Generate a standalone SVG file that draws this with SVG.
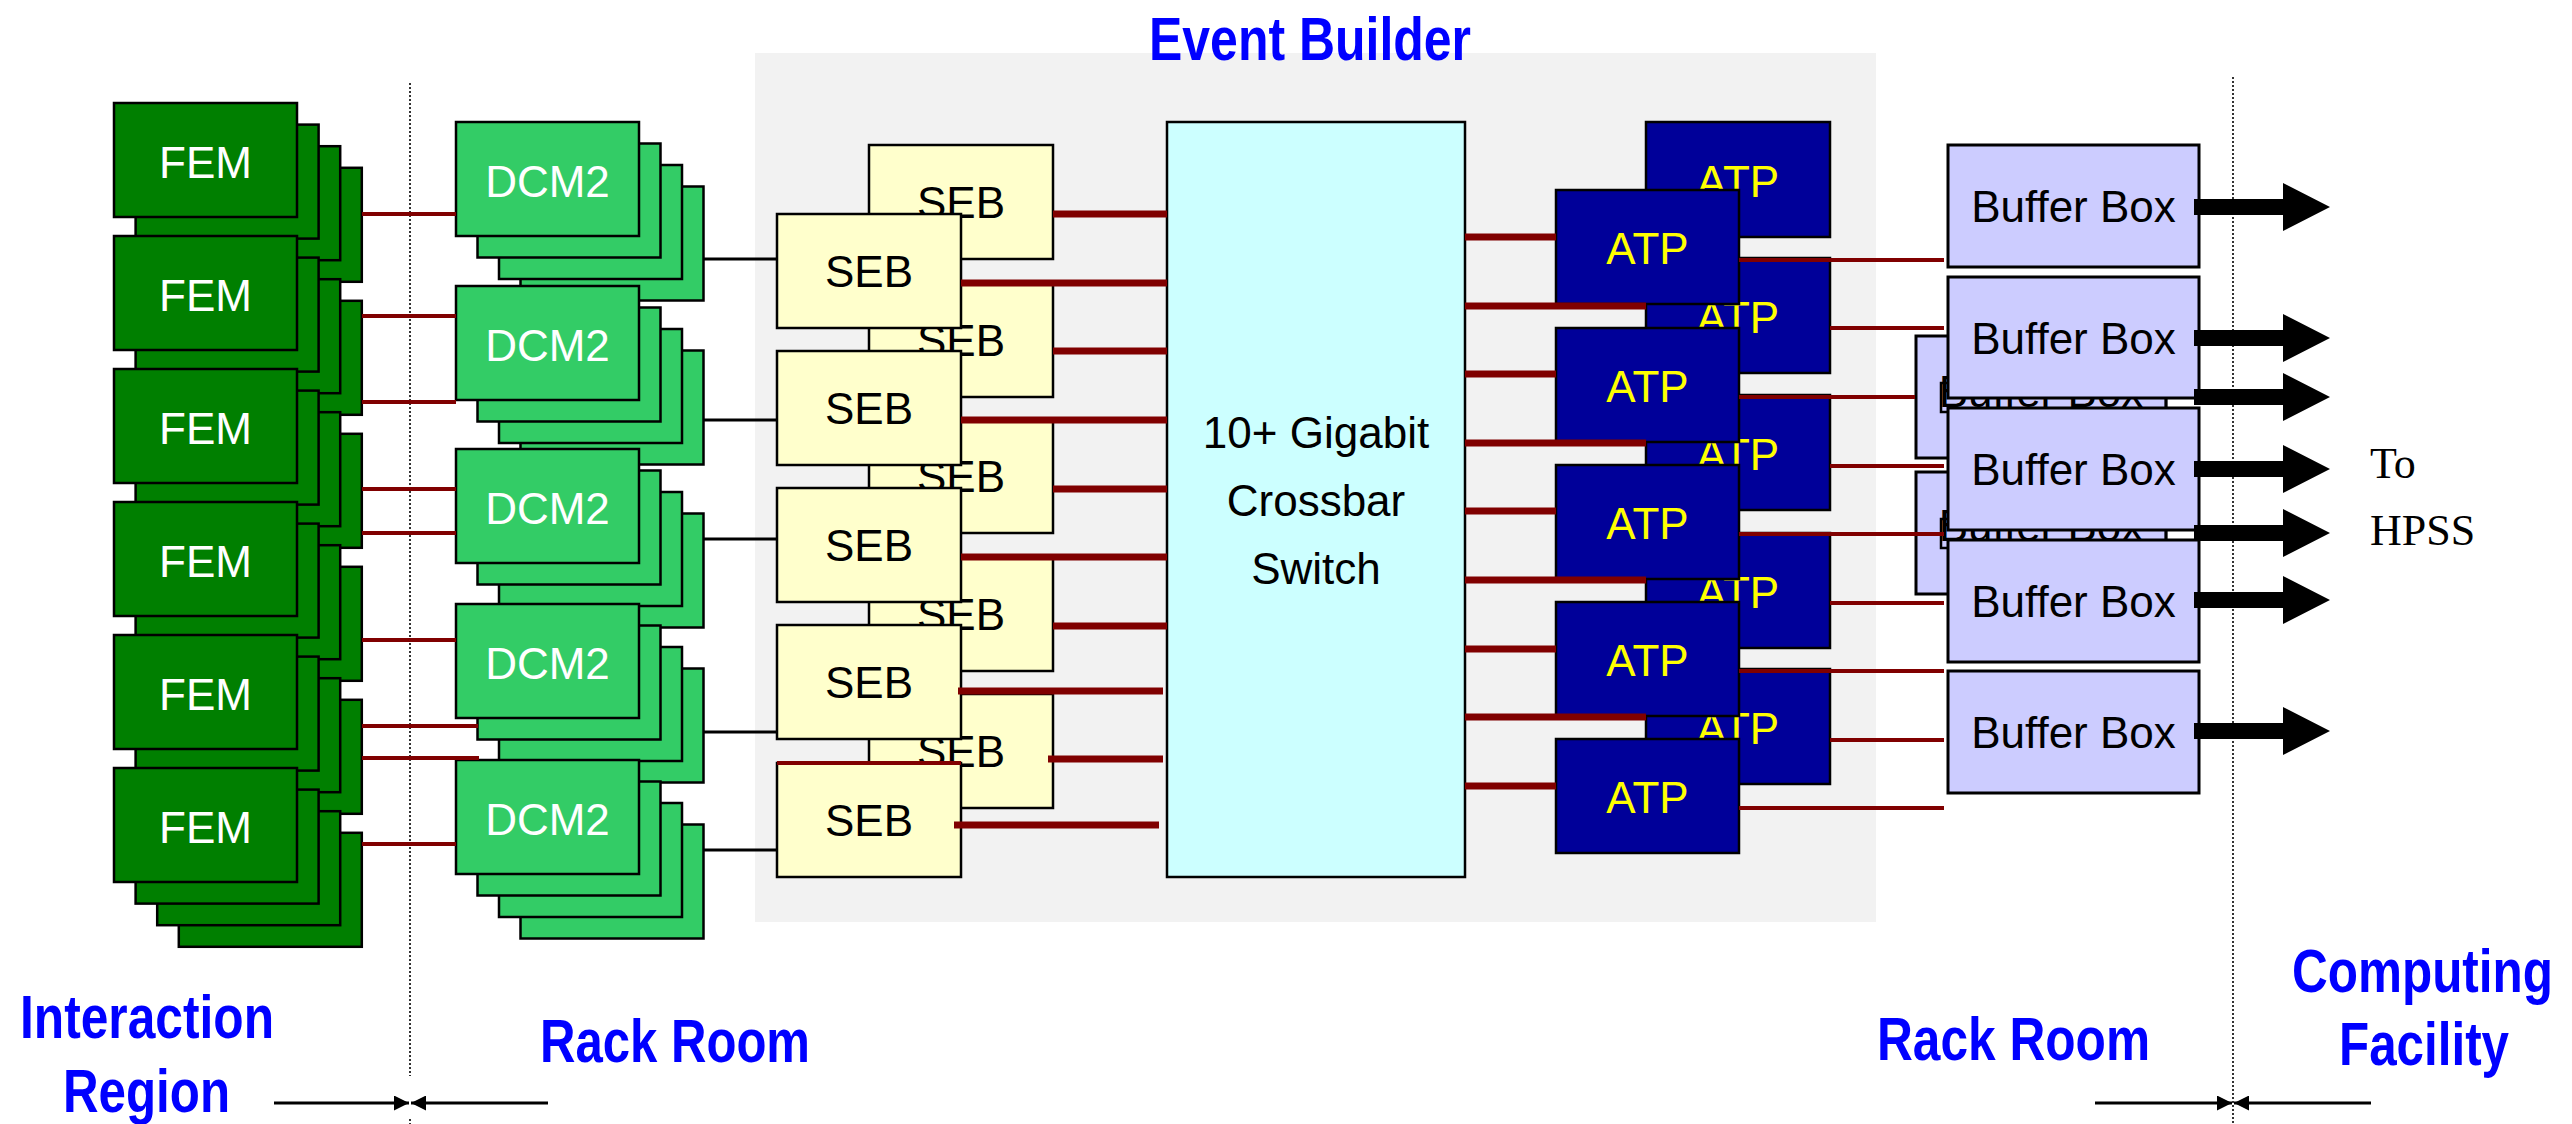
<svg xmlns="http://www.w3.org/2000/svg" xmlns:xlink="http://www.w3.org/1999/xlink" width="2572" height="1124" viewBox="0 0 2572 1124">
<style>
.box{stroke:#000;stroke-width:2.5}
.fem{fill:#007F00}
.dcm{fill:#33CC66}
.seb{fill:#FFFFCC}
.sw{fill:#CCFFFF}
.atp{fill:#000099}
.bb{fill:#CCCCFF;stroke-width:3}
.t{font-family:"Liberation Sans",Arial,sans-serif;font-size:44px;text-anchor:middle}
.w{fill:#FFFFFF}
.k{fill:#000000}
.y{fill:#FFFF00}
.lbl{font-family:"Liberation Sans",Arial,sans-serif;font-size:62px;font-weight:bold;fill:#0000FF}
.hp{font-family:"Liberation Serif","Times New Roman",serif;font-size:44px;fill:#000}
.r4{stroke:#800000;stroke-width:4;fill:none}
.r7{stroke:#800000;stroke-width:7;fill:none}
.b3{stroke:#000;stroke-width:3;fill:none}
.dot{stroke:#333;stroke-width:2;stroke-dasharray:2 2;fill:none}
.dim{stroke:#000;stroke-width:3;fill:none}
</style>
<defs>
<marker id="tri" viewBox="0 0 10 10" refX="10" refY="5" markerUnits="userSpaceOnUse" markerWidth="15" markerHeight="15" orient="auto">
<path d="M0,0 L10,5 L0,10 Z" fill="#000"/>
</marker>
<path id="blk" d="M0,-8 H89 V-24 L136,0 L89,24 V8 H0 Z" fill="#000"/>
</defs>

<rect id="event-builder-bg" x="755" y="53" width="1121" height="869" fill="#F2F2F2"/>

<g id="boundaries">
<line class="dot" x1="410" y1="83" x2="410" y2="1076"/>
<line class="dot" x1="410" y1="1119" x2="410" y2="1124"/>
<line class="dot" x1="2233" y1="77" x2="2233" y2="1124"/>
</g>

<!-- FEM stacks -->
<g id="fem1">
<rect class="box fem" x="178.8" y="167.8" width="183" height="114"/>
<rect class="box fem" x="157.2" y="146.2" width="183" height="114"/>
<rect class="box fem" x="135.6" y="124.6" width="183" height="114"/>
<rect class="box fem" x="114" y="103" width="183" height="114"/>
<text class="t w" x="205.5" y="178">FEM</text>
</g>
<g id="fem2">
<rect class="box fem" x="178.8" y="300.8" width="183" height="114"/>
<rect class="box fem" x="157.2" y="279.2" width="183" height="114"/>
<rect class="box fem" x="135.6" y="257.6" width="183" height="114"/>
<rect class="box fem" x="114" y="236" width="183" height="114"/>
<text class="t w" x="205.5" y="311">FEM</text>
</g>
<g id="fem3">
<rect class="box fem" x="178.8" y="433.8" width="183" height="114"/>
<rect class="box fem" x="157.2" y="412.2" width="183" height="114"/>
<rect class="box fem" x="135.6" y="390.6" width="183" height="114"/>
<rect class="box fem" x="114" y="369" width="183" height="114"/>
<text class="t w" x="205.5" y="444">FEM</text>
</g>
<g id="fem4">
<rect class="box fem" x="178.8" y="566.8" width="183" height="114"/>
<rect class="box fem" x="157.2" y="545.2" width="183" height="114"/>
<rect class="box fem" x="135.6" y="523.6" width="183" height="114"/>
<rect class="box fem" x="114" y="502" width="183" height="114"/>
<text class="t w" x="205.5" y="577">FEM</text>
</g>
<g id="fem5">
<rect class="box fem" x="178.8" y="699.8" width="183" height="114"/>
<rect class="box fem" x="157.2" y="678.2" width="183" height="114"/>
<rect class="box fem" x="135.6" y="656.6" width="183" height="114"/>
<rect class="box fem" x="114" y="635" width="183" height="114"/>
<text class="t w" x="205.5" y="710">FEM</text>
</g>
<g id="fem6">
<rect class="box fem" x="178.8" y="832.8" width="183" height="114"/>
<rect class="box fem" x="157.2" y="811.2" width="183" height="114"/>
<rect class="box fem" x="135.6" y="789.6" width="183" height="114"/>
<rect class="box fem" x="114" y="768" width="183" height="114"/>
<text class="t w" x="205.5" y="843">FEM</text>
</g>

<!-- DCM2 stacks -->
<g id="dcm1">
<rect class="box dcm" x="520.5" y="186.5" width="183" height="114"/>
<rect class="box dcm" x="499" y="165" width="183" height="114"/>
<rect class="box dcm" x="477.5" y="143.5" width="183" height="114"/>
<rect class="box dcm" x="456" y="122" width="183" height="114"/>
<text class="t w" x="547.5" y="197">DCM2</text>
</g>
<g id="dcm2">
<rect class="box dcm" x="520.5" y="350.5" width="183" height="114"/>
<rect class="box dcm" x="499" y="329" width="183" height="114"/>
<rect class="box dcm" x="477.5" y="307.5" width="183" height="114"/>
<rect class="box dcm" x="456" y="286" width="183" height="114"/>
<text class="t w" x="547.5" y="361">DCM2</text>
</g>
<g id="dcm3">
<rect class="box dcm" x="520.5" y="513.5" width="183" height="114"/>
<rect class="box dcm" x="499" y="492" width="183" height="114"/>
<rect class="box dcm" x="477.5" y="470.5" width="183" height="114"/>
<rect class="box dcm" x="456" y="449" width="183" height="114"/>
<text class="t w" x="547.5" y="524">DCM2</text>
</g>
<g id="dcm4">
<rect class="box dcm" x="520.5" y="668.5" width="183" height="114"/>
<rect class="box dcm" x="499" y="647" width="183" height="114"/>
<rect class="box dcm" x="477.5" y="625.5" width="183" height="114"/>
<rect class="box dcm" x="456" y="604" width="183" height="114"/>
<text class="t w" x="547.5" y="679">DCM2</text>
</g>
<g id="dcm5">
<rect class="box dcm" x="520.5" y="824.5" width="183" height="114"/>
<rect class="box dcm" x="499" y="803" width="183" height="114"/>
<rect class="box dcm" x="477.5" y="781.5" width="183" height="114"/>
<rect class="box dcm" x="456" y="760" width="183" height="114"/>
<text class="t w" x="547.5" y="835">DCM2</text>
</g>

<!-- SEB back row -->
<g id="seb-b1"><rect class="box seb" x="869" y="145" width="184" height="114"/><text class="t k" x="961" y="218">SEB</text></g>
<g id="seb-b2"><rect class="box seb" x="869" y="283" width="184" height="114"/><text class="t k" x="961" y="356">SEB</text></g>
<g id="seb-b3"><rect class="box seb" x="869" y="419" width="184" height="114"/><text class="t k" x="961" y="492">SEB</text></g>
<g id="seb-b4"><rect class="box seb" x="869" y="557" width="184" height="114"/><text class="t k" x="961" y="630">SEB</text></g>
<g id="seb-b5"><rect class="box seb" x="869" y="694" width="184" height="114"/><text class="t k" x="961" y="767">SEB</text></g>
<!-- SEB front row -->
<g id="seb-f1"><rect class="box seb" x="777" y="214" width="184" height="114"/><text class="t k" x="869" y="287">SEB</text></g>
<g id="seb-f2"><rect class="box seb" x="777" y="351" width="184" height="114"/><text class="t k" x="869" y="424">SEB</text></g>
<g id="seb-f3"><rect class="box seb" x="777" y="488" width="184" height="114"/><text class="t k" x="869" y="561">SEB</text></g>
<g id="seb-f4"><rect class="box seb" x="777" y="625" width="184" height="114"/><text class="t k" x="869" y="698">SEB</text></g>
<g id="seb-f5"><rect class="box seb" x="777" y="763" width="184" height="114"/><text class="t k" x="869" y="836">SEB</text></g>

<g id="switch">
<rect class="box sw" x="1167" y="122" width="298" height="755"/>
<text class="t k" x="1316" y="448">10+ Gigabit</text>
<text class="t k" x="1316" y="516">Crossbar</text>
<text class="t k" x="1316" y="584">Switch</text>
</g>

<!-- ATP back row -->
<g id="atp-b1"><rect class="box atp" x="1646" y="122" width="184" height="115"/><text class="t y" x="1738" y="197">ATP</text></g>
<g id="atp-b2"><rect class="box atp" x="1646" y="258" width="184" height="115"/><text class="t y" x="1738" y="333">ATP</text></g>
<g id="atp-b3"><rect class="box atp" x="1646" y="395" width="184" height="115"/><text class="t y" x="1738" y="470">ATP</text></g>
<g id="atp-b4"><rect class="box atp" x="1646" y="533" width="184" height="115"/><text class="t y" x="1738" y="608">ATP</text></g>
<g id="atp-b5"><rect class="box atp" x="1646" y="669" width="184" height="115"/><text class="t y" x="1738" y="744">ATP</text></g>
<!-- ATP front row -->
<g id="atp-f1"><rect class="box atp" x="1556" y="190" width="183" height="114"/><text class="t y" x="1647.5" y="264">ATP</text></g>
<g id="atp-f2"><rect class="box atp" x="1556" y="328" width="183" height="114"/><text class="t y" x="1647.5" y="402">ATP</text></g>
<g id="atp-f3"><rect class="box atp" x="1556" y="465" width="183" height="114"/><text class="t y" x="1647.5" y="539">ATP</text></g>
<g id="atp-f4"><rect class="box atp" x="1556" y="602" width="183" height="114"/><text class="t y" x="1647.5" y="676">ATP</text></g>
<g id="atp-f5"><rect class="box atp" x="1556" y="739" width="183" height="114"/><text class="t y" x="1647.5" y="813">ATP</text></g>

<!-- Buffer boxes, back -->
<g id="bb-b1">
<rect class="box bb" x="1916" y="336" width="250" height="122"/>
<rect x="1941" y="383" width="225" height="29" fill="none" stroke="#000" stroke-width="2.5"/>
<text class="t k" x="2041" y="407">Buffer Box</text>
</g>
<g id="bb-b2">
<rect class="box bb" x="1916" y="472" width="250" height="122"/>
<rect x="1941" y="519" width="225" height="29" fill="none" stroke="#000" stroke-width="2.5"/>
<text class="t k" x="2041" y="541">Buffer Box</text>
</g>
<!-- Buffer boxes, front -->
<g id="bb-f1"><rect class="box bb" x="1948" y="145" width="251" height="122"/><text class="t k" x="2073.5" y="222">Buffer Box</text></g>
<g id="bb-f2"><rect class="box bb" x="1948" y="277" width="251" height="121"/><text class="t k" x="2073.5" y="354">Buffer Box</text></g>
<g id="bb-f3"><rect class="box bb" x="1948" y="408" width="251" height="122"/><text class="t k" x="2073.5" y="485">Buffer Box</text></g>
<g id="bb-f4"><rect class="box bb" x="1948" y="540" width="251" height="122"/><text class="t k" x="2073.5" y="617">Buffer Box</text></g>
<g id="bb-f5"><rect class="box bb" x="1948" y="671" width="251" height="122"/><text class="t k" x="2073.5" y="748">Buffer Box</text></g>

<g id="connectors">
<!-- FEM to DCM2 -->
<path class="r4" d="M362,214H456 M362,316H456 M362,402H456 M362,489H456 M362,533H456 M362,640H456 M362,726H478 M362,758H479 M362,844H456"/>
<!-- DCM2 to SEB -->
<path class="b3" d="M703,259H777 M703,420H777 M703,539H777 M703,732H777 M703,850H777"/>
<!-- stray line on SEB top edge -->
<path class="r4" d="M777,763H961"/>
<!-- SEB to switch -->
<path class="r7" d="M1053,214H1167 M961,283H1167 M1053,351H1167 M961,420H1167 M1053,489H1167 M961,557H1167 M1053,626H1167 M958,691H1163 M1048,759H1163 M954,825H1159"/>
<!-- switch to ATP -->
<path class="r7" d="M1465,237H1556 M1465,306H1646 M1465,374H1556 M1465,443H1646 M1465,511H1556 M1465,580H1646 M1465,649H1556 M1465,717H1646 M1465,786H1556"/>
<!-- ATP to buffer boxes -->
<path class="r4" d="M1739,260H1944 M1830,328H1944 M1739,397H1915 M1830,466H1944 M1739,534H1944 M1830,603H1944 M1739,671H1944 M1830,740H1944 M1739,808H1944"/>
<!-- buffer boxes to HPSS -->
<use xlink:href="#blk" x="2194" y="207"/>
<use xlink:href="#blk" x="2194" y="338"/>
<use xlink:href="#blk" x="2194" y="397"/>
<use xlink:href="#blk" x="2194" y="469"/>
<use xlink:href="#blk" x="2194" y="533"/>
<use xlink:href="#blk" x="2194" y="600"/>
<use xlink:href="#blk" x="2194" y="731"/>
</g>

<g id="dimension-arrows">
<line class="dim" x1="274" y1="1103" x2="409" y2="1103" marker-end="url(#tri)"/>
<line class="dim" x1="548" y1="1103" x2="411" y2="1103" marker-end="url(#tri)"/>
<line class="dim" x1="2095" y1="1103" x2="2232" y2="1103" marker-end="url(#tri)"/>
<line class="dim" x1="2371" y1="1103" x2="2234" y2="1103" marker-end="url(#tri)"/>
</g>

<g id="labels">
<text class="lbl" x="1149" y="60" textLength="322" lengthAdjust="spacingAndGlyphs">Event Builder</text>
<text class="lbl" x="20" y="1038" textLength="254" lengthAdjust="spacingAndGlyphs">Interaction</text>
<text class="lbl" x="63" y="1112" textLength="167" lengthAdjust="spacingAndGlyphs">Region</text>
<text class="lbl" x="540" y="1062" textLength="270" lengthAdjust="spacingAndGlyphs">Rack Room</text>
<text class="lbl" x="1877" y="1060" textLength="273" lengthAdjust="spacingAndGlyphs">Rack Room</text>
<text class="lbl" x="2292" y="992" textLength="261" lengthAdjust="spacingAndGlyphs">Computing</text>
<text class="lbl" x="2339" y="1065" textLength="170" lengthAdjust="spacingAndGlyphs">Facility</text>
<text class="hp" x="2370" y="478">To</text>
<text class="hp" x="2370" y="545">HPSS</text>
</g>
</svg>
